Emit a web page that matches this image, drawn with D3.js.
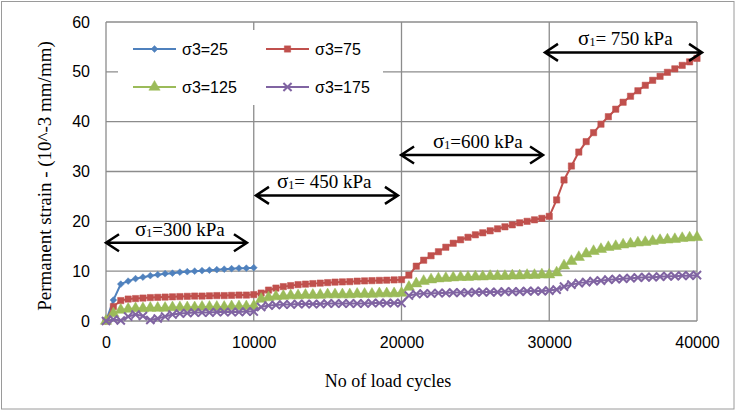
<!DOCTYPE html>
<html>
<head>
<meta charset="utf-8">
<script src="https://cdn.jsdelivr.net/npm/d3@7"></script>
<style>
  body { margin: 0; background: #fff; }
</style>
</head>
<body>
<div id="chart"></div>
<script>
// load cycles (every 500 cycles)
const cycles = [0, 500, 1000, 1500, 2000, 2500, 3000, 3500, 4000, 4500,
  5000, 5500, 6000, 6500, 7000, 7500, 8000, 8500, 9000, 9500,
  10000, 10500, 11000, 11500, 12000, 12500, 13000, 13500, 14000, 14500,
  15000, 15500, 16000, 16500, 17000, 17500, 18000, 18500, 19000, 19500,
  20000, 20500, 21000, 21500, 22000, 22500, 23000, 23500, 24000, 24500,
  25000, 25500, 26000, 26500, 27000, 27500, 28000, 28500, 29000, 29500,
  30000, 30500, 31000, 31500, 32000, 32500, 33000, 33500, 34000, 34500,
  35000, 35500, 36000, 36500, 37000, 37500, 38000, 38500, 39000, 39500, 40000];

// permanent strain (10^-3 mm/mm)
const s25 = [0, 4.2, 7.4, 8.0, 8.5, 8.8, 9.1, 9.3, 9.5, 9.6, 9.8, 9.9, 10.0, 10.1, 10.2, 10.3, 10.4, 10.5, 10.6, 10.6, 10.7];

const s75 = [0, 2.9, 4.1, 4.4, 4.5, 4.6, 4.7, 4.75, 4.8, 4.85, 4.9, 4.95, 5.0, 5.0, 5.05, 5.1, 5.1, 5.15, 5.2, 5.2, 5.3,
  5.6, 6.2, 6.6, 6.9, 7.1, 7.3, 7.4, 7.5, 7.6, 7.7, 7.8, 7.85, 7.9, 8.0, 8.05, 8.1, 8.15, 8.2, 8.25, 8.3,
  9.2, 11.0, 12.2, 13.1, 13.9, 14.8, 15.6, 16.3, 16.8, 17.3, 17.7, 18.1, 18.5, 18.9, 19.3, 19.7, 20.0, 20.3, 20.6, 21.0,
  24.3, 28.3, 31.1, 33.9, 36.0, 37.8, 39.5, 41.0, 42.5, 43.9, 45.1, 46.2, 47.3, 48.3, 49.1, 49.9, 50.6, 51.3, 52.0, 52.7];

const s125 = [0, 1.5, 2.2, 2.4, 2.5, 2.5, 2.6, 2.6, 2.6, 2.7, 2.7, 2.7, 2.7, 2.8, 2.8, 2.8, 2.8, 2.9, 2.9, 2.9, 3.0,
  4.4, 4.7, 4.9, 5.0, 5.1, 5.1, 5.2, 5.2, 5.2, 5.3, 5.3, 5.3, 5.3, 5.4, 5.4, 5.4, 5.5, 5.5, 5.5, 5.6,
  6.8, 7.5, 8.0, 8.3, 8.5, 8.6, 8.7, 8.8, 8.8, 8.9, 8.9, 9.0, 9.0, 9.0, 9.1, 9.1, 9.2, 9.2, 9.3, 9.3,
  9.7, 11.1, 12.0, 12.8, 13.5, 14.0, 14.4, 14.8, 15.0, 15.3, 15.5, 15.7, 15.8, 16.0, 16.2, 16.3, 16.4, 16.6, 16.7, 16.8];

const s175 = [0, 0.3, 0.1, 0.9, 1.3, 1.0, 0.2, 0.5, 0.9, 1.3, 1.5, 1.6, 1.7, 1.7, 1.7, 1.8, 1.8, 1.8, 1.8, 1.9, 1.9,
  2.8, 3.1, 3.2, 3.3, 3.3, 3.4, 3.4, 3.4, 3.4, 3.5, 3.5, 3.5, 3.5, 3.5, 3.5, 3.6, 3.6, 3.6, 3.6, 3.6,
  5.1, 5.4, 5.5, 5.5, 5.6, 5.6, 5.7, 5.7, 5.7, 5.8, 5.8, 5.8, 5.8, 5.9, 5.9, 5.9, 6.0, 6.0, 6.0, 6.1,
  6.3, 6.9, 7.3, 7.6, 7.8, 8.0, 8.1, 8.3, 8.4, 8.5, 8.6, 8.7, 8.8, 8.8, 8.9, 9.0, 9.0, 9.1, 9.1, 9.2];

const seriesNames = ["σ3=25", "σ3=75", "σ3=125", "σ3=175"];
const xTicks = [0, 10000, 20000, 30000, 40000];
const yTicks = [0, 10, 20, 30, 40, 50, 60];

// stress stage annotations: label value, arrow start, arrow end, level, label start
const stageStress = ["300", " 450", "600", " 750"];
const stageFrom = [0, 10150, 19970, 29710];
const stageTo = [9540, 19760, 29580, 40340];
const stageLevel = [15.7, 25.2, 33.3, 53.9];
const stageLabelAt = [1960, 11570, 22130, 31950];

const W = 736, H = 411;
const margin = {top: 22, right: 39, bottom: 90, left: 106};
const width = W - margin.left - margin.right,
      height = H - margin.top - margin.bottom;

const colors = ["#4f81bd", "#c0504d", "#9bbb59", "#8064a2"];
const grid = "#8c8c8c";

const svg = d3.select("#chart").append("svg")
    .attr("width", W)
    .attr("height", H);

// chart frame
svg.append("rect")
    .attr("x", 1.5).attr("y", 1.5)
    .attr("width", W - 3.5).attr("height", H - 3.5)
    .attr("fill", "#fff").attr("stroke", "#9a9a9a").attr("stroke-width", 1);

const g = svg.append("g")
    .attr("transform", `translate(${margin.left},${margin.top})`);

const x = d3.scaleLinear().domain([0, 40000]).range([0, width]);
const y = d3.scaleLinear().domain([0, 60]).range([height, 0]);

// gridlines
g.append("g")
  .selectAll("line.h")
  .data(yTicks)
  .join("line")
    .attr("x1", 0).attr("x2", width)
    .attr("y1", d => y(d)).attr("y2", d => y(d))
    .attr("stroke", grid).attr("stroke-width", 1.3);
g.append("g")
  .selectAll("line.v")
  .data(xTicks)
  .join("line")
    .attr("x1", d => x(d)).attr("x2", d => x(d))
    .attr("y1", 0).attr("y2", height)
    .attr("stroke", grid).attr("stroke-width", 1.3);

// axes labels (no tick marks)
const xAxis = g.append("g")
    .attr("transform", `translate(0,${height})`)
    .call(d3.axisBottom(x).tickValues(xTicks).tickFormat(d3.format("d")).tickSize(0).tickPadding(16));
const yAxis = g.append("g")
    .call(d3.axisLeft(y).tickValues(yTicks).tickSize(0).tickPadding(16));
[xAxis, yAxis].forEach(a => {
  a.select(".domain").remove();
  a.selectAll("text")
    .attr("font-family", "Liberation Sans, Arial, sans-serif")
    .attr("font-size", 16)
    .attr("fill", "#000");
});

// markers
const diamond = d3.symbol().type(d3.symbolDiamond2).size(30);
const square = d3.symbol().type(d3.symbolSquare).size(40);
const triangle = d3.symbol().type(d3.symbolTriangle).size(55);
const cross = d3.symbol().type(d3.symbolX).size(45);

const allSeries = [s25, s75, s125, s175];
const shapes = [diamond, square, triangle, cross];

const line = d3.line()
    .x(d => x(d.c))
    .y(d => y(d.v));

allSeries.forEach((vals, i) => {
  const pts = vals.map((v, k) => ({c: cycles[k], v: v}));
  g.append("path")
    .datum(pts)
    .attr("fill", "none")
    .attr("stroke", colors[i])
    .attr("stroke-width", 2)
    .attr("d", line);
  g.append("g")
    .selectAll("path")
    .data(pts)
    .join("path")
      .attr("transform", d => `translate(${x(d.c)},${y(d.v)})`)
      .attr("d", shapes[i])
      .attr("fill", i === 3 ? "none" : colors[i])
      .attr("stroke", colors[i])
      .attr("stroke-width", i === 3 ? 2 : 0.5);
});

// legend
const legend = g.append("g");
legend.append("rect")
    .attr("x", 12).attr("y", 8).attr("width", 265).attr("height", 75)
    .attr("fill", "#fff");
const legPos = [[27, 27], [160, 27], [27, 65], [160, 65]];
seriesNames.forEach((name, i) => {
  const lg = legend.append("g").attr("transform", `translate(${legPos[i][0]},${legPos[i][1]})`);
  lg.append("line")
    .attr("x1", 0).attr("x2", 43)
    .attr("stroke", colors[i]).attr("stroke-width", 2);
  lg.append("path")
    .attr("transform", "translate(21.5,0)")
    .attr("d", shapes[i])
    .attr("fill", i === 3 ? "none" : colors[i])
    .attr("stroke", colors[i])
    .attr("stroke-width", i === 3 ? 2 : 0.5);
  lg.append("text")
    .attr("x", 49).attr("y", 6)
    .attr("font-family", "Liberation Sans, Arial, sans-serif")
    .attr("font-size", 16)
    .text(name);
});

// stress stage arrows
const head = 13, half = 8.5;
stageStress.forEach((s, i) => {
  const x0 = x(stageFrom[i]), x1 = x(stageTo[i]), yy = y(stageLevel[i]);
  const p = d3.path();
  p.moveTo(x0, yy); p.lineTo(x1, yy);
  p.moveTo(x0 + head, yy - half); p.lineTo(x0, yy); p.lineTo(x0 + head, yy + half);
  p.moveTo(x1 - head, yy - half); p.lineTo(x1, yy); p.lineTo(x1 - head, yy + half);
  g.append("path")
    .attr("d", p.toString())
    .attr("fill", "none")
    .attr("stroke", "#000")
    .attr("stroke-width", 2.5);
  const t = g.append("text")
    .attr("x", x(stageLabelAt[i]))
    .attr("y", yy - 7)
    .attr("font-family", "Liberation Serif, Times New Roman, serif")
    .attr("font-size", 19);
  t.append("tspan").attr("font-size", 21).text("σ");
  t.append("tspan").attr("font-size", 12).attr("dy", 1).text("1");
  t.append("tspan").attr("dy", -1).text("=" + s + " kPa");
});

// axis titles
svg.append("text")
    .attr("x", 388).attr("y", 387)
    .attr("text-anchor", "middle")
    .attr("font-family", "Liberation Serif, Times New Roman, serif")
    .attr("font-size", 18)
    .text("No of load cycles");
svg.append("text")
    .attr("transform", "translate(51,176) rotate(-90)")
    .attr("text-anchor", "middle")
    .attr("font-family", "Liberation Serif, Times New Roman, serif")
    .attr("font-size", 19)
    .text("Permanent strain - (10^-3 mm/mm)");
</script>
</body>
</html>
